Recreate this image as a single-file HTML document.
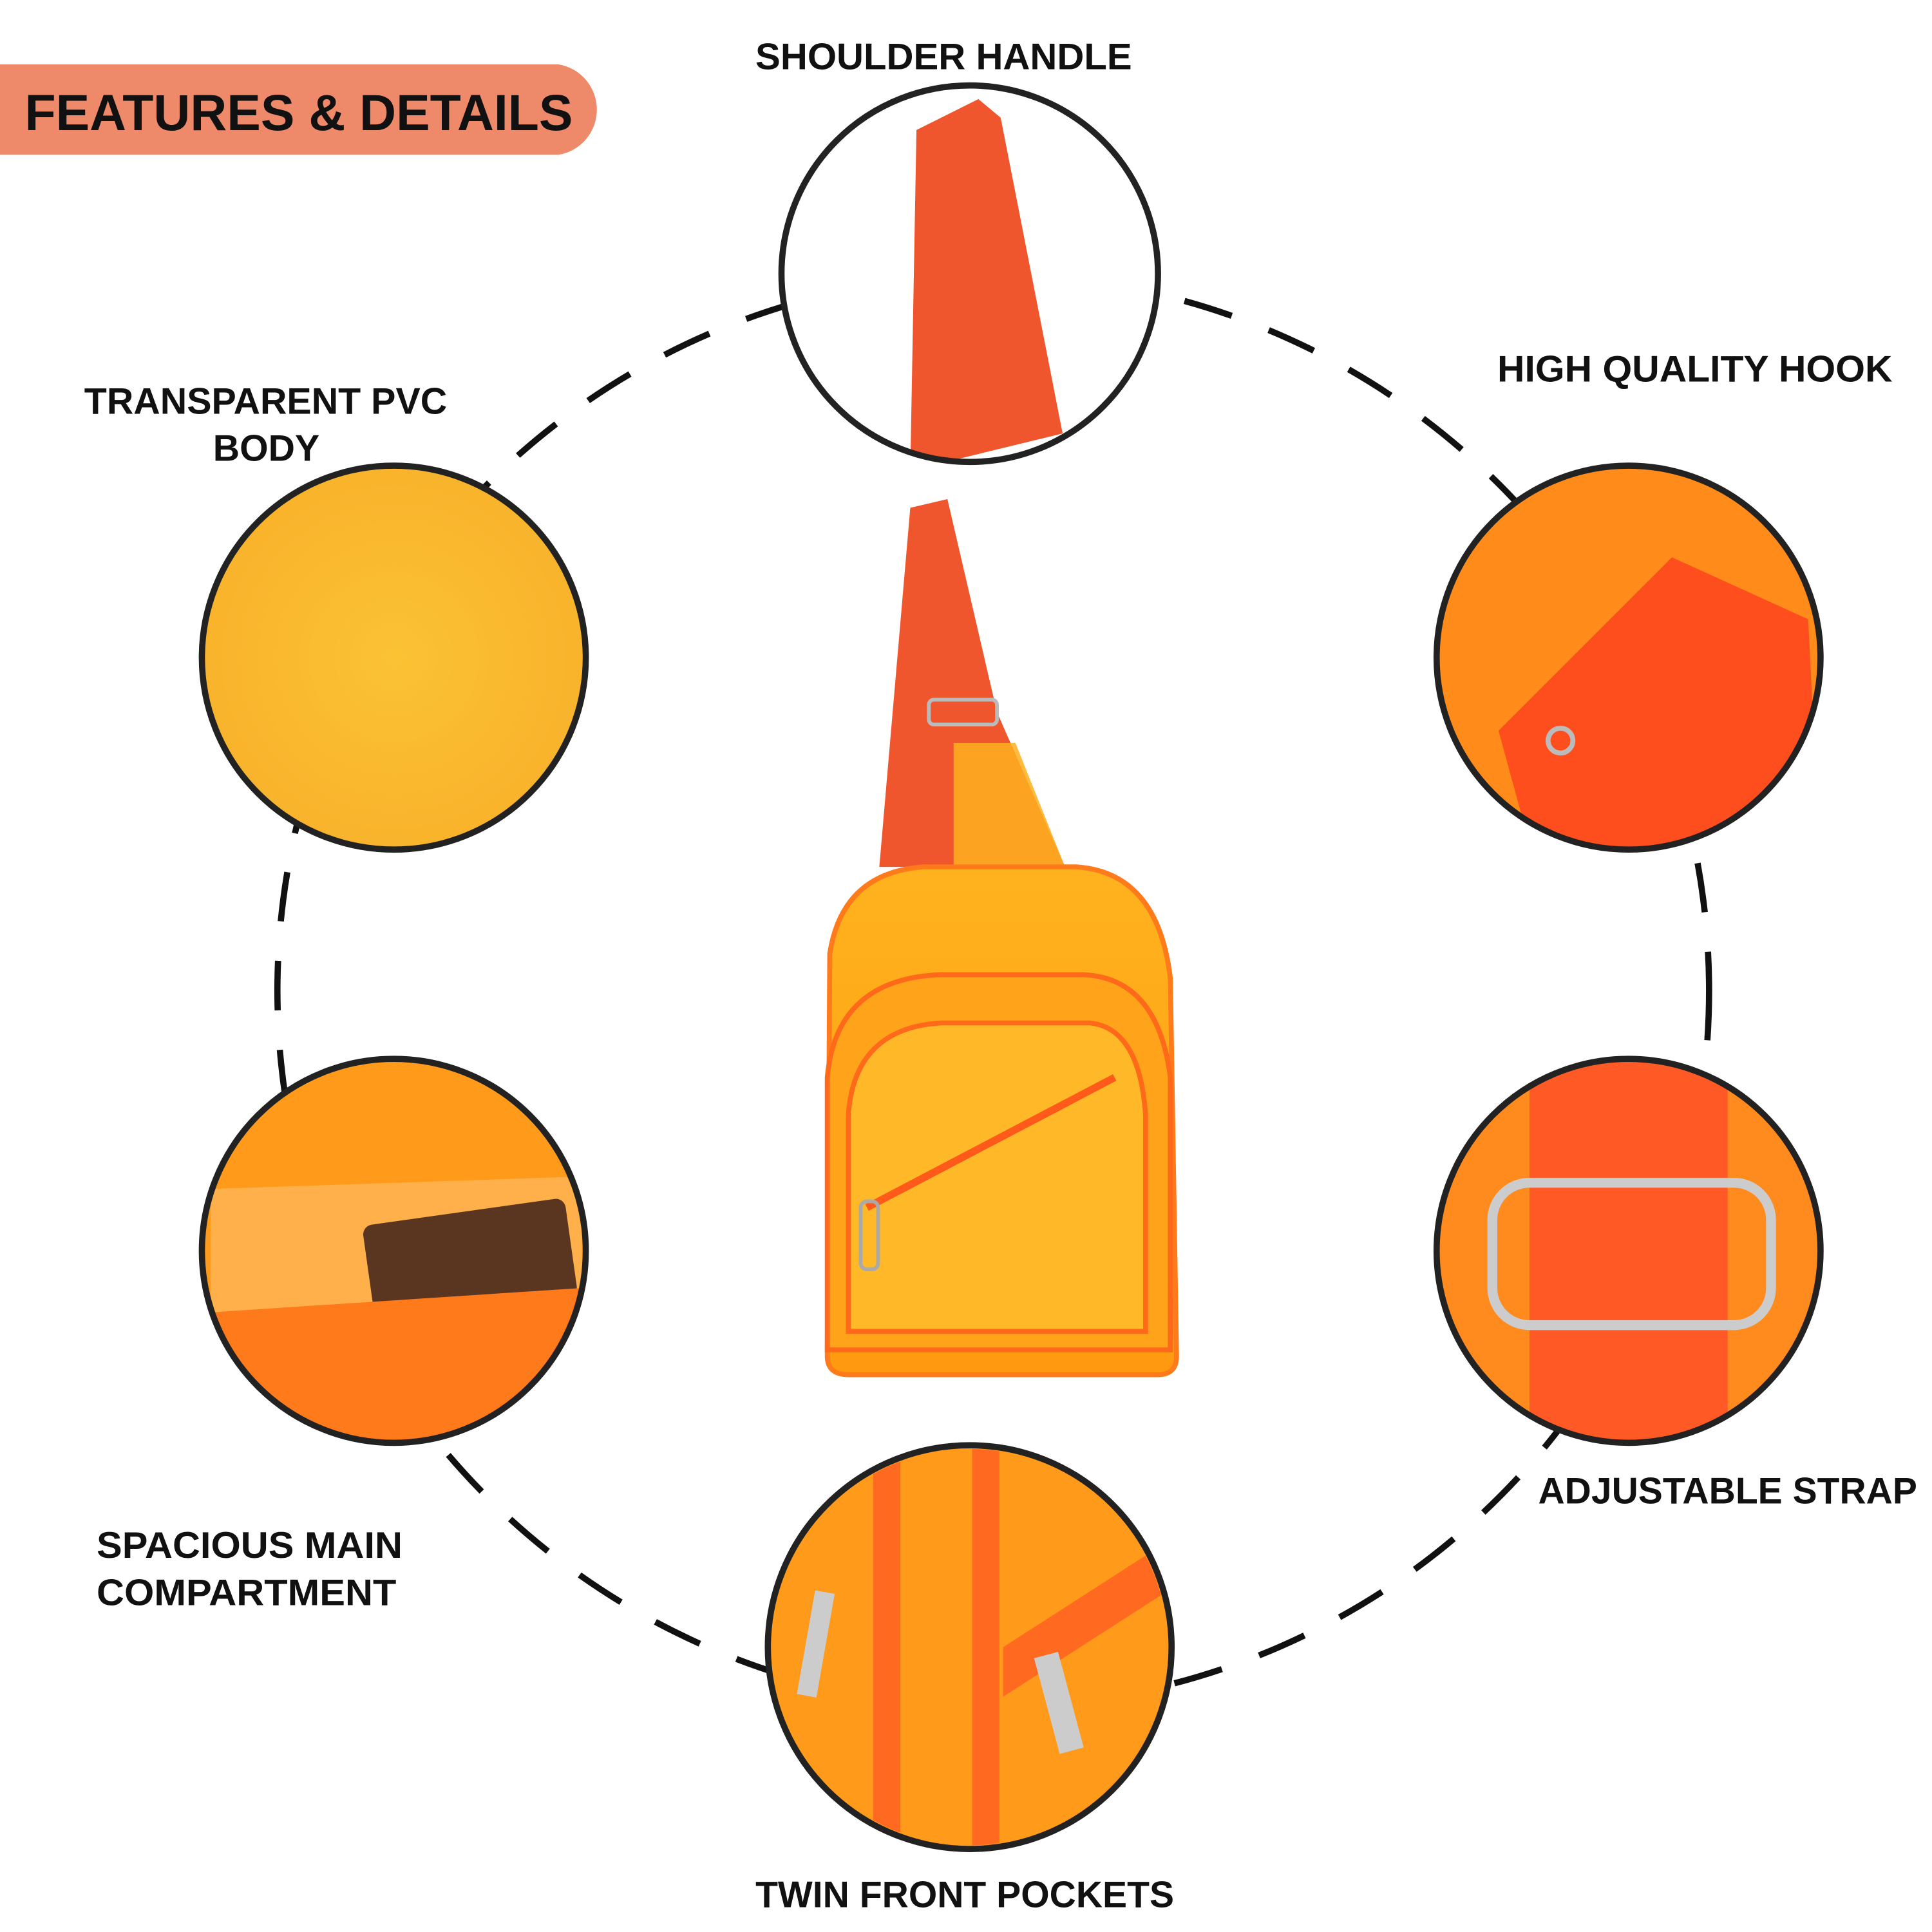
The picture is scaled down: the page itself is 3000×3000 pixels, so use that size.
<!DOCTYPE html>
<html><head><meta charset="utf-8"><style>
html,body{margin:0;padding:0;background:#fff;}
svg{display:block}
text{font-family:"Liberation Sans",sans-serif;font-weight:bold;fill:#111}
</style></head><body>
<svg width="3000" height="3000" viewBox="0 0 1560 1560" xmlns="http://www.w3.org/2000/svg">
<defs>
<radialGradient id="yel" cx="50%" cy="50%" r="60%"><stop offset="0" stop-color="#FBC234"/><stop offset="1" stop-color="#F8B02A"/></radialGradient>
<linearGradient id="bag" x1="0" y1="0" x2="0" y2="1"><stop offset="0" stop-color="#FFB21E"/><stop offset="1" stop-color="#FF9A10"/></linearGradient>
<clipPath id="c1"><circle cx="783" cy="221" r="150"/></clipPath>
<clipPath id="c3"><circle cx="1315" cy="531" r="153"/></clipPath>
<clipPath id="c4"><circle cx="318" cy="1010" r="153"/></clipPath>
<clipPath id="c5"><circle cx="1315" cy="1010" r="153"/></clipPath>
<clipPath id="c6"><circle cx="783" cy="1330" r="160"/></clipPath>
</defs>
<rect width="1560" height="1560" fill="#fff"/>
<circle cx="802" cy="800" r="578" fill="none" stroke="#111" stroke-width="5" stroke-dasharray="40 32"/>
<path d="M0 52 H451 A37 37 0 0 1 451 125 H0 Z" fill="#EE8A6A"/>
<text x="20" y="105" font-size="41">FEATURES &amp; DETAILS</text>
<circle cx="783" cy="221" r="152" fill="#fff"/>
<g clip-path="url(#c1)"><path d="M740 105 L790 80 L808 95 L858 350 L735 380 Z" fill="#F0562E"/></g>
<circle cx="783" cy="221" r="152" fill="none" stroke="#222" stroke-width="5"/>
<circle cx="318" cy="531" r="155" fill="url(#yel)" stroke="#222" stroke-width="5"/>
<circle cx="1315" cy="531" r="155" fill="#FF8C1A"/>
<g clip-path="url(#c3)"><path d="M1210 590 L1350 450 L1460 500 L1470 700 L1240 700 Z" fill="#FF4E1E"/><circle cx="1260" cy="598" r="10" fill="none" stroke="#bbb" stroke-width="4"/></g>
<circle cx="1315" cy="531" r="155" fill="none" stroke="#222" stroke-width="5"/>
<circle cx="318" cy="1010" r="155" fill="#FF9A1A"/>
<g clip-path="url(#c4)"><path d="M170 960 L470 950 L470 1060 L170 1070 Z" fill="#FFB04A"/><rect x="297" y="978" width="165" height="80" rx="8" fill="#5A3520" transform="rotate(-8 380 1018)"/><path d="M165 1060 L470 1040 L470 1170 L165 1170 Z" fill="#FF7A1A"/></g>
<circle cx="318" cy="1010" r="155" fill="none" stroke="#222" stroke-width="5"/>
<circle cx="1315" cy="1010" r="155" fill="#FF8A1E"/>
<g clip-path="url(#c5)"><rect x="1235" y="850" width="160" height="330" fill="#FF5A25"/><rect x="1205" y="955" width="225" height="115" rx="30" fill="none" stroke="#ccc" stroke-width="8"/></g>
<circle cx="1315" cy="1010" r="155" fill="none" stroke="#222" stroke-width="5"/>
<circle cx="783" cy="1330" r="163" fill="#FF9A1A"/>
<g clip-path="url(#c6)"><rect x="705" y="1160" width="22" height="340" fill="#FF6A20"/><rect x="785" y="1160" width="22" height="340" fill="#FF6A20"/><path d="M810 1330 L950 1240 L950 1280 L810 1370Z" fill="#FF6A20"/><rect x="652" y="1285" width="16" height="85" fill="#ccc" transform="rotate(10 660 1320)"/><rect x="845" y="1335" width="20" height="80" fill="#ccc" transform="rotate(-15 855 1375)"/></g>
<circle cx="783" cy="1330" r="163" fill="none" stroke="#222" stroke-width="5"/>
<path d="M735 410 L765 403 L805 575 L860 700 L710 700 Z" fill="#F0562E"/>
<rect x="750" y="565" width="55" height="20" rx="4" fill="none" stroke="#bbb" stroke-width="3"/>
<path d="M770 600 L820 600 L860 700 L770 700 Z" fill="#FFB020" opacity="0.85"/>
<path d="M670 770 Q680 705 745 700 L870 700 Q935 705 945 790 L950 1095 Q950 1110 935 1110 L685 1110 Q668 1110 668 1095 Z" fill="url(#bag)" stroke="#FF7A1A" stroke-width="4"/>
<path d="M668 870 Q675 790 760 787 L875 787 Q935 790 945 870 L945 1090 L668 1090 Z" fill="#FFA41A" stroke="#FF6A1A" stroke-width="4"/>
<path d="M685 900 Q690 830 760 826 L880 826 Q920 830 925 900 L925 1075 L685 1075 Z" fill="#FFB828" stroke="#FF6A1A" stroke-width="4"/>
<path d="M700 975 L900 870" stroke="#FF5A1A" stroke-width="6"/>
<rect x="695" y="970" width="14" height="55" rx="5" fill="none" stroke="#aaa" stroke-width="3"/>
<text x="610" y="56" font-size="30" textLength="304" lengthAdjust="spacingAndGlyphs">SHOULDER HANDLE</text>
<text x="1209" y="308" font-size="30" textLength="319" lengthAdjust="spacingAndGlyphs">HIGH QUALITY HOOK</text>
<text x="68" y="334" font-size="30" textLength="293" lengthAdjust="spacingAndGlyphs">TRANSPARENT PVC</text>
<text x="172" y="372" font-size="30" textLength="86" lengthAdjust="spacingAndGlyphs">BODY</text>
<text x="78" y="1258" font-size="30" textLength="247" lengthAdjust="spacingAndGlyphs">SPACIOUS MAIN</text>
<text x="78" y="1296" font-size="30" textLength="242" lengthAdjust="spacingAndGlyphs">COMPARTMENT</text>
<text x="1242" y="1214" font-size="30" textLength="306" lengthAdjust="spacingAndGlyphs">ADJUSTABLE STRAP</text>
<text x="610" y="1540" font-size="30" textLength="338" lengthAdjust="spacingAndGlyphs">TWIN FRONT POCKETS</text>
</svg>
</body></html>
